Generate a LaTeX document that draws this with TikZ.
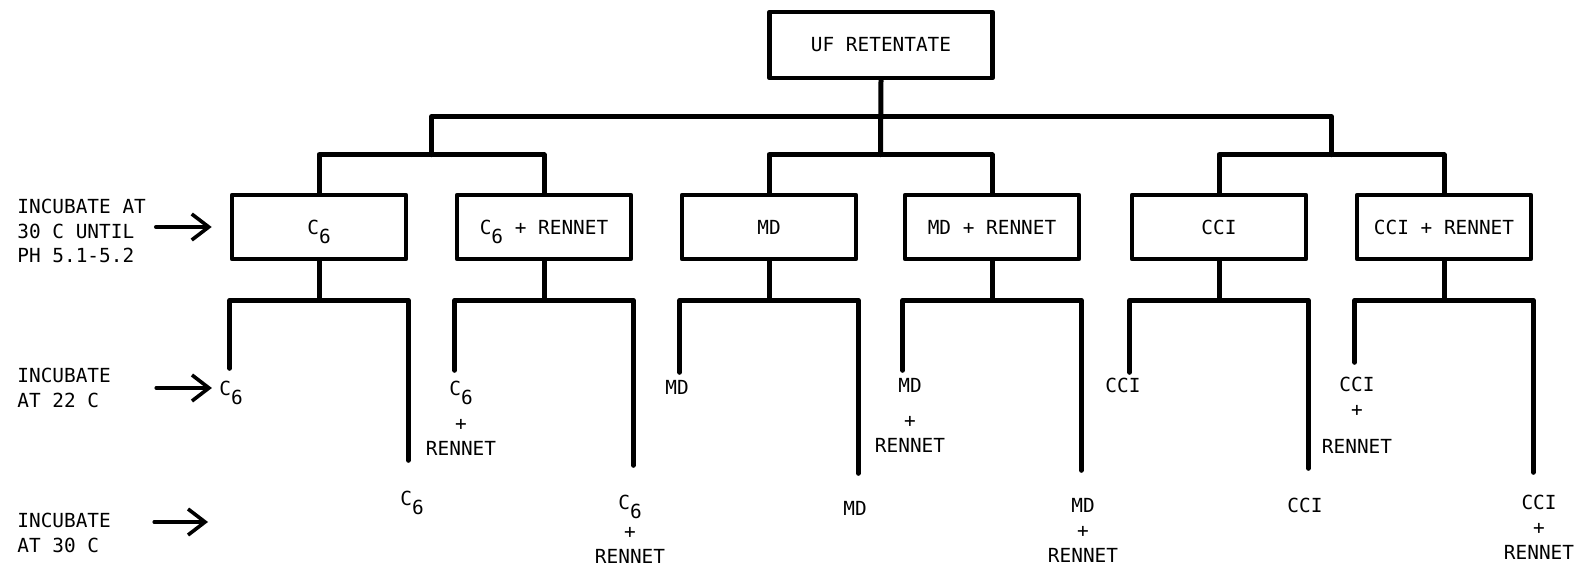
\documentclass[tikz,border=0pt]{standalone}
\usepackage{fontspec}
\setmonofont{DejaVu Sans Mono}
\usetikzlibrary{arrows.meta}

\newcommand{\sixsub}{\raisebox{-4.5pt}[0pt][0pt]{6}}

\begin{document}
\begin{tikzpicture}[x=0.5pt, y=-0.5pt, line cap=round, line join=round,
  font=\ttfamily\fontsize{9.7}{12.2}\selectfont]

\tikzset{
  box/.style={draw, line width=2.3pt, minimum width=87pt, minimum height=32pt, inner sep=0pt},
  tree/.style={line width=2.5pt},
  lab/.style={inner sep=0pt, align=center},
  stack/.style={lab, font=\ttfamily\fontsize{9.7}{12.5}\selectfont},
  side/.style={inner sep=0pt, align=left, anchor=west},
  arr/.style={line width=1.8pt, -{Straight Barb[length=8.5pt, width=13pt, line width=1.8pt]}}
}

\useasboundingbox (0,0) rectangle (1590,571);

% ----------------------------
% BOXES
% ----------------------------
\node[box, minimum width=111.5pt, minimum height=33pt] (uf) at (881,45) {UF RETENTATE};

\node[box] (c6)   at (319,227)  {C\sixsub};
\node[box] (c6r)  at (544,227)  {C\sixsub{} + RENNET};
\node[box] (md)   at (769,227)  {MD};
\node[box] (mdr)  at (992,227)  {MD + RENNET};
\node[box] (cci)  at (1219,227) {CCI};
\node[box] (ccir) at (1444,227) {CCI + RENNET};

% ----------------------------
% UPPER TREE
% ----------------------------
\draw[tree] (c6.north)  -- ++(0,-38) -| node[coordinate, pos=0.25] (jL) {} (c6r.north);
\draw[tree] (md.north)  -- ++(0,-38) -| node[coordinate, pos=0.25] (jM) {} (mdr.north);
\draw[tree] (cci.north) -- ++(0,-38) -| node[coordinate, pos=0.25] (jR) {} (ccir.north);
\draw[tree] (uf.south) -- (jM);
\draw[tree] (jL) -- ++(0,-38) -| (jR);

% ----------------------------
% LOWER LEGS (left leg / right leg lengths)
% ----------------------------
\foreach \b/\l/\r in {c6/68/160, c6r/70/165, md/72/173, mdr/70/170, cci/72/168, ccir/62/172} {
  \draw[tree] (\b.south) -- ++(0,39) coordinate (\b-j);
  \draw[tree] (\b.south west |- \b-j) ++(0,\l) -- ++(0,-\l)
    -- (\b.south east |- \b-j) -- ++(0,\r);
}

% ----------------------------
% LABELS AT 22 C
% ----------------------------
\node[lab]   (c6-a)   at (231,388)  {C\sixsub};
\node[stack] (c6r-a)  at (461,418)  {C\sixsub\\[5pt]+\\RENNET};
\node[lab]   (md-a)   at (677,387)  {MD};
\node[stack] (mdr-a)  at (910,415)  {MD\\[5pt]+\\RENNET};
\node[lab]   (cci-a)  at (1123,385) {CCI};
\node[stack] (ccir-a) at (1357,415) {CCI\\+\\[6pt]RENNET};

% ----------------------------
% LABELS AT 30 C
% ----------------------------
\node[lab]   (c6-b)   at (412,498)  {C\sixsub};
\node[stack] (c6r-b)  at (630,529)  {C\sixsub\\[2pt]+\\RENNET};
\node[lab]   (md-b)   at (855,508)  {MD};
\node[stack] (mdr-b)  at (1083,530) {MD\\+\\RENNET};
\node[lab]   (cci-b)  at (1305,505) {CCI};
\node[stack] (ccir-b) at (1539,527) {CCI\\+\\RENNET};

% ----------------------------
% SIDE NOTES AND ARROWS
% ----------------------------
\node[side] (inc1) at (17,231) {INCUBATE AT\\30 C UNTIL\\PH 5.1-5.2};
\node[side] (inc2) at (17,388) {INCUBATE\\AT 22 C};
\node[side] (inc3) at (17,533) {INCUBATE\\AT 30 C};

\coordinate (in30) at (208,522);

\draw[arr] (inc1.east |- c6.west) ++(9.5,0) -- ([xshift=-9pt]c6.west);
\draw[arr] (inc2.east |- c6-a.west) ++(45,0) -- ([xshift=-3.5pt]c6-a.west);
\draw[arr] (inc3.east |- in30) ++(43,0) -- (in30);

\end{tikzpicture}
\end{document}
